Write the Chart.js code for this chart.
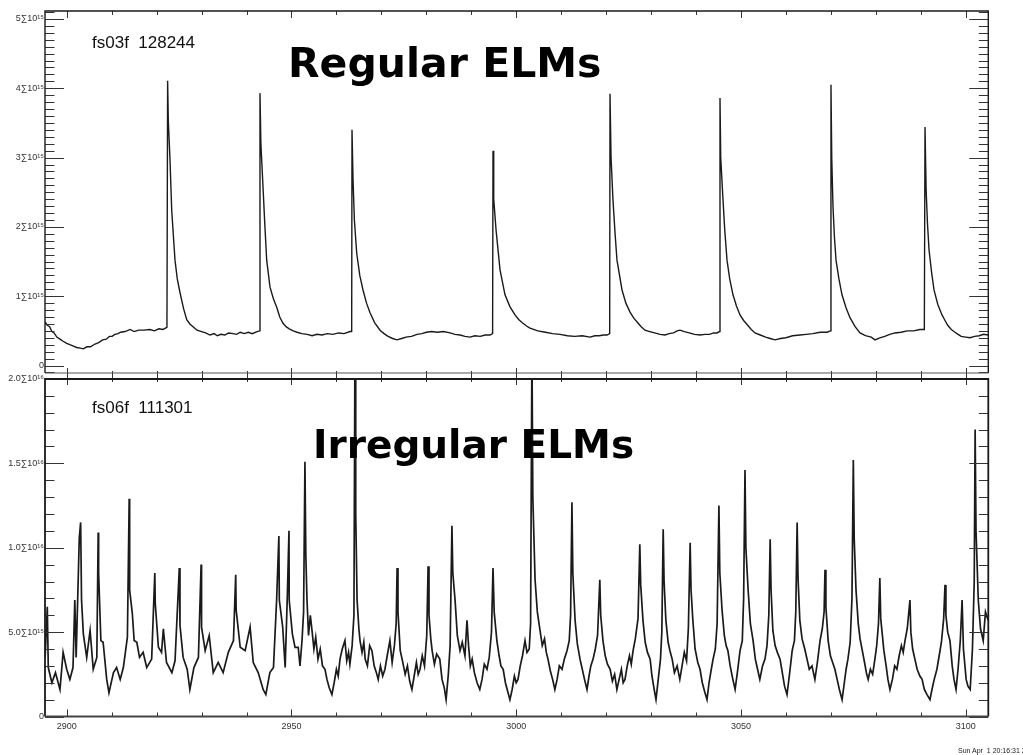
<!DOCTYPE html>
<html><head><meta charset="utf-8"><title>ELMs</title>
<script src="https://cdn.jsdelivr.net/npm/chart.js@4.4.1/dist/chart.umd.min.js"></script>
<style>
html,body{margin:0;padding:0;background:#fff;}
body{width:1023px;height:755px;overflow:hidden;position:relative;font-family:"Liberation Sans",Arial,sans-serif;}
canvas{position:absolute;left:0;}
#c1{top:0;}
#c2{top:360px;}
.ann{position:absolute;white-space:pre;color:#111;line-height:1;}
.big{font-family:"DejaVu Sans",sans-serif;font-weight:bold;color:#000;}
.small{font-size:17px;}
.stamp{font-size:7px;color:#222;}
</style></head><body>
<canvas id="c1" width="1023" height="395"></canvas>
<canvas id="c2" width="1023" height="395"></canvas>
<div class="ann small" style="left:92px;top:34px">fs03f  128244</div>
<div class="ann big" style="left:288px;top:43px;font-size:41px">Regular ELMs</div>
<div class="ann big" style="left:313px;top:425px;font-size:39px">Irregular ELMs</div>
<div class="ann small" style="left:92px;top:399px">fs06f  111301</div>
<div class="ann stamp" style="left:958px;top:747px">Sun Apr  1 20:16:31 2012</div>
<script>
// ---- data (time in ms, signal values) ----
const xTicks = [2900, 2950, 3000, 3050, 3100];
const topYTicks = [0, 1, 2, 3, 4, 5];
const topYLabels = ['0', '1\u221110\u00b9\u2075', '2\u221110\u00b9\u2075', '3\u221110\u00b9\u2075', '4\u221110\u00b9\u2075', '5\u221110\u00b9\u2075'];
const botYTicks = [0, 0.5, 1.0, 1.5, 2.0];
const botYLabels = ['0', '5.0\u221110\u00b9\u2075', '1.0\u221110\u00b9\u2076', '1.5\u221110\u00b9\u2076', '2.0\u221110\u00b9\u2076'];

const topT = [2895.2,2895.7,2896.2,2896.7,2897.2,2897.8,2898.5,2899.2,2900.0,2900.7,2901.5,2902.2,2903.0,2903.7,2904.5,2905.3,2906.3,2907.1,2908.0,2908.8,2909.5,2910.1,2910.7,2911.4,2912.0,2913.0,2914.1,2915.0,2916.0,2917.2,2918.5,2919.5,2920.5,2921.4,2922.3,
 2922.45,2922.6,2922.98,2923.36,2924.09,2924.6,2925.21,2926.0,2926.7,2927.4,2928.1,2929.0,2930.0,2930.9,2931.88,2932.8,2933.5,2934.3,2935.2,2936.0,2937.0,2937.8,2938.6,2939.5,2940.4,2941.3,2942.34,2942.9,
 2943.0,2943.2,2943.67,2944.1,2944.49,2945.23,2946.0,2946.72,2947.4,2948.12,2948.8,2949.5,2950.4,2951.24,2952.3,2953.5,2954.6,2955.68,2956.8,2958.0,2959.2,2960.5,2961.7,2963.03,2963.4,
 2963.47,2963.7,2964.0,2964.52,2965.2,2965.92,2966.7,2967.48,2968.5,2969.7,2970.6,2971.5,2972.5,2973.48,2974.5,2975.5,2976.7,2977.93,2979.0,2980.0,2981.2,2982.38,2983.8,2985.27,2986.4,2987.5,2988.6,2989.72,2990.8,2992.0,2993.1,2994.17,2994.75,
 2994.84,2995.0,2995.51,2996.4,2997.51,2998.6,2999.73,3000.6,3001.5,3002.3,3003.07,3004.8,3006.5,3008.1,3009.75,3011.4,3013.0,3014.7,3016.42,3017.5,3018.5,3019.4,3020.2,3020.8,
 3020.87,3021.1,3021.53,3022.0,3022.42,3023.54,3024.4,3025.32,3026.2,3027.0,3027.8,3028.65,3029.7,3030.8,3032.0,3033.1,3034.0,3035.0,3035.8,3036.44,3037.4,3038.5,3039.7,3040.89,3042.0,3043.0,3043.9,3044.67,3045.25,
 3045.34,3045.5,3046.01,3046.4,3046.9,3047.5,3048.23,3049.0,3049.79,3050.6,3051.5,3052.3,3053.13,3054.3,3055.5,3056.5,3057.58,3058.8,3060.0,3061.5,3063.14,3064.5,3066.0,3067.6,3069.14,3069.9,
 3070.03,3070.2,3070.48,3070.8,3071.15,3071.8,3072.48,3073.4,3074.26,3075.4,3076.49,3077.7,3079.0,3079.82,3080.9,3082.0,3083.1,3084.27,3085.6,3087.0,3088.4,3089.83,3090.8,
 3090.95,3091.2,3091.5,3091.84,3092.4,3092.95,3093.8,3094.73,3095.4,3096.0,3096.8,3097.62,3098.3,3099.0,3100.0,3100.96,3102.0,3103.0,3104.0,3104.96];
const topV = [0.63,0.58,0.56,0.49,0.47,0.41,0.38,0.35,0.32,0.30,0.28,0.26,0.25,0.24,0.27,0.27,0.31,0.33,0.37,0.38,0.42,0.42,0.45,0.46,0.48,0.49,0.52,0.49,0.51,0.51,0.52,0.50,0.53,0.52,0.55,
 4.11,3.54,2.97,2.24,1.52,1.25,1.05,0.82,0.66,0.60,0.56,0.51,0.49,0.47,0.44,0.46,0.43,0.45,0.44,0.47,0.46,0.45,0.48,0.46,0.48,0.46,0.49,0.50,
 3.93,3.20,2.58,2.00,1.52,1.13,0.96,0.84,0.70,0.61,0.56,0.53,0.50,0.48,0.46,0.45,0.43,0.45,0.44,0.46,0.45,0.47,0.46,0.49,0.49,
 3.40,2.68,2.10,1.62,1.30,1.09,0.90,0.76,0.62,0.51,0.46,0.42,0.39,0.37,0.39,0.41,0.42,0.45,0.46,0.48,0.49,0.48,0.49,0.47,0.45,0.44,0.42,0.41,0.43,0.42,0.44,0.44,0.46,
 3.10,2.40,1.96,1.38,1.02,0.85,0.73,0.66,0.61,0.57,0.54,0.50,0.48,0.46,0.45,0.43,0.42,0.43,0.41,0.43,0.43,0.44,0.44,0.46,
 3.92,3.00,2.39,1.90,1.52,1.09,0.90,0.77,0.68,0.62,0.56,0.51,0.49,0.47,0.45,0.44,0.46,0.47,0.50,0.51,0.49,0.47,0.45,0.44,0.45,0.45,0.47,0.47,0.49,
 3.86,3.00,2.39,1.95,1.52,1.25,1.02,0.86,0.73,0.65,0.58,0.52,0.47,0.44,0.41,0.39,0.37,0.39,0.40,0.43,0.44,0.45,0.46,0.48,0.48,0.50,
 4.05,3.00,2.29,1.85,1.52,1.25,1.02,0.83,0.69,0.56,0.47,0.43,0.41,0.37,0.40,0.42,0.45,0.47,0.48,0.50,0.50,0.52,0.52,
 3.44,2.53,2.05,1.67,1.35,1.09,0.88,0.73,0.65,0.58,0.52,0.48,0.45,0.42,0.41,0.40,0.42,0.43,0.45,0.44];

const botT = [2895.2,2895.68,2895.9,2896.7,2897.5,2898.5,2899.2,2900.0,2900.7,2901.4,2901.8,2902.1,2902.8,2903.1,2903.3,2903.7,2904.45,2905.2,2905.9,2906.7,2907.0,2907.1,2907.6,2908.1,2908.9,2909.4,2910.4,2911.1,2911.9,2912.6,2913.5,2913.9,2914.0,2914.6,2915.0,2915.6,2916.2,2917.0,2917.8,2918.9,2919.6,2919.7,2920.4,2921.1,2921.5,2922.2,2923.4,2924.1,2925.05,2925.2,2925.9,2926.8,2927.4,2928.3,2929.3,2929.9,2930.0,2930.8,2931.7,2932.6,2933.7,2934.8,2935.95,2937.1,2937.6,2937.7,2938.6,2939.7,2940.8,2941.5,2942.6,2943.7,2944.3,2945.2,2946.0,2946.7,2947.2,2947.3,2948.05,2948.6,2949.1,2949.45,2949.5,2950.2,2950.8,2951.5,
 2951.9,2952.35,2952.7,2953.0,2953.2,2953.46,2953.8,2954.2,2954.57,2955.0,2955.4,2955.9,2956.4,2956.9,2957.46,2957.9,2958.4,2959.0,2959.5,2960.0,2960.4,2960.8,2961.3,2961.9,2962.3,2962.7,2963.0,2963.5,2963.9,2964.14,2964.3,2964.6,2965.0,2965.25,2965.7,2966.1,2966.4,2966.9,2967.4,2967.9,2968.4,2968.9,2969.3,2969.8,2970.3,2970.8,2971.3,2971.9,2972.4,2972.9,2973.3,2973.5,2973.7,2974.2,2974.7,2975.3,2975.8,2976.3,2976.8,2977.3,2977.8,2978.2,2978.6,2979.1,2979.6,2980.1,2980.4,2980.6,2981.0,2981.3,2981.8,2982.3,2983.0,2983.5,2984.0,2984.4,2984.9,2985.3,2985.7,2985.9,2986.4,2986.9,2987.5,2988.0,2988.6,2989.05,2989.4,2989.8,2990.2,2990.7,2991.3,2991.9,2992.4,2992.9,2993.5,2994.0,2994.5,2994.84,2995.1,2995.7,2996.2,2996.6,2997.1,2997.6,2998.1,2998.6,2999.1,2999.6,3000.0,3000.4,3000.9,3001.4,3001.96,3002.4,3002.9,3003.2,3003.5,3003.7,3004.2,3004.7,3005.3,3005.8,3006.3,3006.7,3007.07,3007.6,3008.1,3008.6,3009.1,3009.6,3010.2,3010.7,3011.3,3011.8,3012.1,3012.4,3012.6,3013.1,3013.6,3014.2,3014.7,3015.2,3015.75,3016.2,3016.6,3017.1,3017.6,3018.1,3018.6,3018.8,3019.3,3019.8,3020.3,3020.9,3021.4,3021.9,3022.4,3022.9,3023.4,3023.8,3024.2,3024.7,3025.2,3025.6,3026.0,3026.5,3027.1,3027.5,3027.7,3028.2,3028.7,3029.2,3029.8,3030.2,3030.7,3031.1,3031.6,3032.1,3032.4,3032.7,3032.9,3033.3,3033.8,3034.2,3034.7,3035.2,3035.8,3036.4,3036.9,3037.4,3037.9,3038.3,3038.7,3038.9,3039.3,3039.8,3040.4,3040.9,3041.4,3041.9,3042.45,3042.9,3043.4,3043.8,3044.3,3044.7,3045.1,3045.3,3045.8,3046.3,3046.7,3047.1,3047.6,3048.2,3048.7,3049.2,3049.8,3050.3,3050.6,3050.9,3051.1,3051.6,3052.1,3052.7,3053.2,3053.7,3054.2,3054.8,3055.35,3055.8,3056.2,3056.5,3056.7,3057.1,3057.6,3058.1,3058.7,3059.2,3059.7,3060.25,3060.8,3061.4,3061.9,3062.2,3062.5,3062.7,3063.1,3063.6,3064.2,3064.7,3065.2,3065.8,3066.45,3067.0,3067.6,3068.1,3068.5,3068.7,3068.9,3069.4,3069.9,3070.4,3070.9,3071.4,3071.9,3072.5,3073.0,3073.4,3073.8,3074.3,3074.7,3075.0,3075.2,3075.6,3076.1,3076.5,3077.0,3077.5,3077.9,3078.3,3078.8,3079.3,3079.8,3080.2,3080.6,3080.9,3081.1,3081.8,3082.3,3082.7,3083.15,3083.7,3084.2,3084.7,3085.2,3085.7,3086.1,3086.5,3087.0,3087.6,3087.8,3088.2,3088.7,3089.2,3089.8,3090.3,3090.8,3091.4,3092.05,3092.5,3093.0,3093.6,3094.1,3094.6,3095.1,3095.4,3095.6,3096.0,3096.5,3097.0,3097.4,3097.85,3098.3,3098.8,3099.2,3099.5,3100.1,3100.5,3101.0,3101.5,3101.9,3102.1,3102.3,3102.8,3103.3,3103.9,3104.4,3105.0];
const botV = [0.35,0.65,0.29,0.20,0.26,0.16,0.38,0.28,0.22,0.29,0.69,0.35,1.06,1.15,0.69,0.49,0.35,0.51,0.28,0.35,1.09,0.85,0.45,0.44,0.22,0.14,0.26,0.29,0.22,0.29,0.47,1.29,0.75,0.61,0.45,0.44,0.35,0.38,0.29,0.34,0.85,0.67,0.41,0.38,0.52,0.32,0.26,0.33,0.88,0.54,0.35,0.28,0.16,0.29,0.35,0.90,0.53,0.39,0.48,0.26,0.32,0.26,0.38,0.45,0.84,0.63,0.41,0.39,0.53,0.32,0.26,0.16,0.13,0.26,0.29,0.69,1.07,0.69,0.53,0.29,0.73,1.10,0.69,0.49,0.41,0.41,
 0.30,0.45,0.62,1.51,0.95,0.69,0.48,0.60,0.51,0.40,0.47,0.34,0.40,0.30,0.28,0.22,0.17,0.13,0.20,0.28,0.24,0.34,0.40,0.45,0.33,0.38,0.31,0.42,0.60,2.30,1.20,0.69,0.52,0.45,0.38,0.44,0.34,0.30,0.42,0.39,0.30,0.26,0.22,0.30,0.24,0.28,0.36,0.45,0.32,0.42,0.55,0.88,0.62,0.39,0.33,0.25,0.30,0.21,0.16,0.24,0.32,0.25,0.28,0.36,0.30,0.48,0.89,0.60,0.46,0.39,0.31,0.37,0.34,0.22,0.17,0.10,0.25,0.42,1.13,0.85,0.69,0.48,0.39,0.44,0.36,0.57,0.42,0.30,0.34,0.26,0.20,0.16,0.22,0.31,0.28,0.35,0.50,0.88,0.62,0.45,0.36,0.30,0.28,0.20,0.15,0.10,0.16,0.24,0.20,0.22,0.30,0.36,0.45,0.38,0.40,0.55,2.20,1.30,0.81,0.62,0.51,0.42,0.46,0.38,0.34,0.27,0.22,0.16,0.22,0.30,0.28,0.34,0.39,0.45,0.60,1.27,0.85,0.57,0.43,0.34,0.28,0.22,0.16,0.24,0.30,0.34,0.40,0.48,0.81,0.60,0.45,0.36,0.31,0.28,0.21,0.25,0.16,0.22,0.28,0.20,0.22,0.30,0.36,0.31,0.39,0.46,0.58,1.02,0.78,0.57,0.44,0.38,0.34,0.24,0.16,0.10,0.22,0.34,0.50,1.11,0.80,0.57,0.44,0.39,0.34,0.26,0.30,0.22,0.30,0.38,0.33,0.52,1.03,0.75,0.57,0.40,0.32,0.28,0.20,0.15,0.10,0.20,0.28,0.34,0.40,0.55,1.25,0.85,0.63,0.48,0.42,0.39,0.30,0.22,0.16,0.26,0.39,0.45,0.70,1.46,1.00,0.75,0.55,0.45,0.34,0.28,0.22,0.30,0.34,0.42,0.60,1.05,0.75,0.51,0.42,0.38,0.34,0.26,0.18,0.13,0.25,0.39,0.45,0.62,1.15,0.82,0.57,0.46,0.40,0.34,0.28,0.30,0.22,0.32,0.45,0.52,0.62,0.87,0.65,0.45,0.36,0.32,0.28,0.22,0.16,0.10,0.20,0.28,0.34,0.44,0.70,1.52,1.05,0.75,0.55,0.46,0.39,0.32,0.26,0.22,0.28,0.25,0.34,0.42,0.55,0.82,0.58,0.39,0.30,0.22,0.16,0.22,0.30,0.28,0.36,0.42,0.38,0.45,0.52,0.69,0.50,0.40,0.34,0.28,0.24,0.22,0.16,0.13,0.10,0.16,0.22,0.28,0.36,0.44,0.58,0.78,0.60,0.50,0.45,0.30,0.22,0.16,0.28,0.45,0.69,0.40,0.22,0.18,0.16,0.40,0.80,1.70,1.10,0.69,0.52,0.45,0.62,0.57];

const X_MIN = 2895.17, X_MAX = 3105.03;

function pts(T, V){ return T.map((t, i) => ({x: t, y: V[i]})); }

const tickFont = {family: '"Liberation Sans", Arial, sans-serif', size: 9};

const framePlugin = {
  id: 'frame',
  afterDraw(chart, args, o) {
    const ctx = chart.ctx, a = chart.chartArea, xs = chart.scales.x, ys = chart.scales.y;
    ctx.save();
    ctx.strokeStyle = '#333';
    ctx.lineWidth = 1;
    ctx.beginPath();
    const i0 = Math.ceil(ys.min / o.yMinor - 1e-6), i1 = Math.floor(ys.max / o.yMinor + 1e-6);
    for (let i = i0; i <= i1; i++) {
      const py = Math.round(ys.getPixelForValue(i * o.yMinor)) + 0.5;
      const len = (i % o.yRatio === 0) ? 19 : 9.5;
      ctx.moveTo(a.left, py); ctx.lineTo(a.left + len, py);
      ctx.moveTo(a.right, py); ctx.lineTo(a.right - len, py);
    }
    const j0 = Math.ceil(xs.min / 10), j1 = Math.floor(xs.max / 10);
    for (let j = j0; j <= j1; j++) {
      const px = Math.round(xs.getPixelForValue(j * 10)) + 0.5;
      const major = (j % 5 === 0);
      if (o.topTicks) { ctx.moveTo(px, a.top); ctx.lineTo(px, a.top + (major ? 7 : 4)); }
      if (o.bottomTicks === 'cross') {
        ctx.moveTo(px, a.bottom - (major ? 5 : 2)); ctx.lineTo(px, a.bottom + (major ? 12 : 9));
      } else if (o.bottomTicks) {
        ctx.moveTo(px, a.bottom); ctx.lineTo(px, a.bottom - (major ? 7 : 4));
      }
    }
    ctx.stroke();
    ctx.strokeStyle = '#1a1a1a';
    ctx.lineWidth = o.frameWidth;
    ctx.beginPath();
    ctx.moveTo(a.left, a.bottom); ctx.lineTo(a.left, a.top); ctx.lineTo(a.right, a.top); ctx.lineTo(a.right, a.bottom);
    ctx.stroke();
    ctx.strokeStyle = o.bottomColor;
    ctx.lineWidth = o.bottomWidth;
    ctx.beginPath();
    ctx.moveTo(a.left, a.bottom); ctx.lineTo(a.right, a.bottom);
    ctx.stroke();
    ctx.restore();
  }
};

function makeChart(id, T, V, o) {
  return new Chart(document.getElementById(id), {
    type: 'line',
    data: {datasets: [{data: pts(T, V), borderColor: '#1a1a1a', borderWidth: o.lw, pointRadius: 0, tension: 0, fill: false}]},
    options: {
      responsive: false, animation: false, devicePixelRatio: 1,
      layout: {autoPadding: false, padding: o.padding},
      plugins: {legend: {display: false}, tooltip: {enabled: false}, frame: o.frame},
      events: [],
      scales: {
        x: {
          type: 'linear', min: X_MIN, max: X_MAX,
          grid: {display: false, drawTicks: false}, border: {display: false},
          afterBuildTicks: s => { s.ticks = xTicks.map(v => ({value: v})); },
          afterFit: s => { s.height = o.xh; },
          ticks: {display: o.xLabels, padding: 5, font: tickFont, color: '#333', maxRotation: 0, autoSkip: false,
                  callback: v => String(v)}
        },
        y: {
          type: 'linear', min: o.ymin, max: o.ymax,
          grid: {display: false, drawTicks: false}, border: {display: false},
          afterBuildTicks: s => { s.ticks = o.yTicks.map(v => ({value: v})); },
          afterFit: s => { s.width = 45; },
          ticks: {padding: 1, font: tickFont, color: '#333', autoSkip: false,
                  callback: v => o.yLabels[o.yTicks.indexOf(v)]}
        }
      }
    },
    plugins: [framePlugin]
  });
}

makeChart('c1', topT, topV, {
  lw: 1.4, ymin: -0.108, ymax: 5.115, yTicks: topYTicks, yLabels: topYLabels,
  padding: {top: 11, right: 34.7, bottom: 22, left: 0}, xh: 0, xLabels: false,
  frame: {yMinor: 0.1, yRatio: 10, topTicks: true, bottomTicks: 'cross', frameWidth: 1.4, bottomColor: '#555', bottomWidth: 1}
});
makeChart('c2', botT, botV, {
  lw: 1.7, ymin: 0, ymax: 2.0, yTicks: botYTicks, yLabels: botYLabels,
  padding: {top: 19, right: 34.7, bottom: 0, left: 0}, xh: 38.5, xLabels: true,
  frame: {yMinor: 0.1, yRatio: 5, topTicks: false, bottomTicks: true, frameWidth: 1.8, bottomColor: '#444', bottomWidth: 1.8}
});
</script>
</body></html>
